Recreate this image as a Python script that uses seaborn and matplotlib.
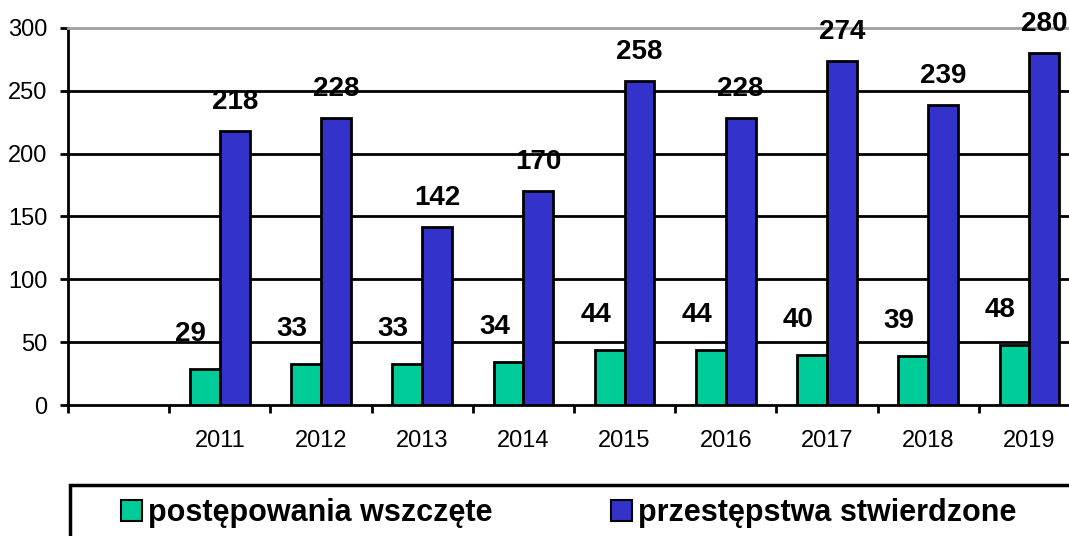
import matplotlib
matplotlib.use("Agg")
import matplotlib.pyplot as plt
from matplotlib.patches import Patch, Rectangle
import seaborn as sns
import pandas as pd
import numpy as np

years = ["2011", "2012", "2013", "2014", "2015", "2016", "2017", "2018", "2019"]
wszczete = [29, 33, 33, 34, 44, 44, 40, 39, 48]
stwierdzone = [218, 228, 142, 170, 258, 228, 274, 239, 280]
series_names = ["postępowania wszczęte", "przestępstwa stwierdzone"]
colors = ["#00CC99", "#3333CC"]
y_ticks = [0, 50, 100, 150, 200, 250, 300]

sns.set_theme(style="white")
plt.rcParams["font.family"] = ["Liberation Sans", "DejaVu Sans"]
plt.rcParams["text.color"] = "black"

order = [""] + years
rows = [{"rok": "", "seria": s, "wartosc": np.nan} for s in series_names]
for y, a, b in zip(years, wszczete, stwierdzone):
    rows.append({"rok": y, "seria": series_names[0], "wartosc": a})
    rows.append({"rok": y, "seria": series_names[1], "wartosc": b})
df = pd.DataFrame(rows)

W, H = 1069, 536
fig = plt.figure(figsize=(W / 100, H / 100), dpi=100)
ax = fig.add_axes([68 / W, 131 / H, (1080 - 68) / W, (405 - 28) / H])

sns.barplot(data=df, x="rok", y="wartosc", hue="seria", order=order,
            hue_order=series_names, palette=colors, width=0.59,
            edgecolor="black", linewidth=2, saturation=1, errorbar=None,
            legend=False, ax=ax, zorder=3)

ax.set_xlim(-0.5, len(order) - 0.5)
ax.set_ylim(0, 300)
ax.set_xlabel("")
ax.set_ylabel("")

for v in y_ticks[1:-1]:
    ax.axhline(v, color="black", lw=2, zorder=1)

for sp in ["left", "bottom"]:
    ax.spines[sp].set_color("black")
    ax.spines[sp].set_linewidth(2)
ax.spines["top"].set_color("#a0a0a0")
ax.spines["top"].set_linewidth(2)
ax.spines["right"].set_visible(False)

ax.set_yticks(y_ticks)
ax.set_yticklabels([str(v) for v in y_ticks])
ax.tick_params(axis="y", direction="out", length=6, width=2, color="black",
               labelsize=17, pad=9, left=True, labelcolor="black")

ax.set_xticks(np.arange(len(order)) - 0.5)
ax.set_xticklabels([""] * len(order))
ax.set_xticks(np.arange(1, len(order)), minor=True)
ax.set_xticklabels(years, minor=True)
ax.tick_params(axis="x", which="major", direction="out", length=6, width=2,
               color="black", bottom=True)
ax.tick_params(axis="x", which="minor", length=0, labelsize=17, pad=18,
               labelcolor="black", bottom=True)

# data labels
containers = ax.containers
offsets = [(-14, 22), (0, 16)]
for cont, vals, (dx, dy) in zip(containers, [wszczete, stwierdzone], offsets):
    bars = [b for b in cont if not np.isnan(b.get_height())]
    for bar, v in zip(bars, vals):
        ax.annotate(str(v), (bar.get_x() + bar.get_width() / 2, bar.get_height()),
                    xytext=(dx, dy), textcoords="offset pixels",
                    ha="center", va="bottom", fontsize=20, fontweight="bold",
                    color="black", zorder=5, annotation_clip=False)

# legend
fig.patches.append(Rectangle((70 / W, -0.2), 1.2, 1.2 - 485 / H,
                             transform=fig.transFigure, fill=False,
                             edgecolor="black", linewidth=2.5))
handles = [Patch(facecolor=c, edgecolor="black", linewidth=1.5) for c in colors]
fig.legend(handles, series_names, loc="center left",
           bbox_to_anchor=(121 / W, 1 - 513 / H), ncol=2, frameon=False,
           prop={"size": 22, "weight": "bold"}, handlelength=0.7,
           handleheight=0.7, handletextpad=0.2, columnspacing=3.85,
           borderpad=0, borderaxespad=0, labelcolor="black")

fig.savefig("out.png", dpi=100)
